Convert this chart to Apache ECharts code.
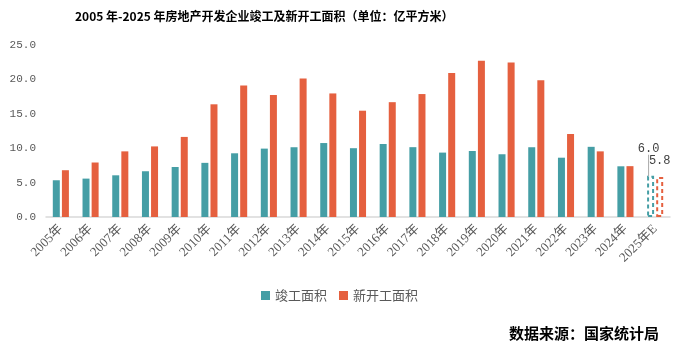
<!DOCTYPE html>
<html><head><meta charset="utf-8">
<script src="https://cdn.jsdelivr.net/npm/echarts@6/dist/echarts.min.js"></script>
<style>html,body{margin:0;padding:0;background:#fff}#c{width:679px;height:347px}</style>
</head><body><div id="c"></div>
<script>
const categories = ['2005年','2006年','2007年','2008年','2009年','2010年','2011年','2012年','2013年','2014年','2015年','2016年','2017年','2018年','2019年','2020年','2021年','2022年','2023年','2024年','2025年E'];
const completed = [5.34,5.58,6.06,6.65,7.27,7.87,9.26,9.94,10.14,10.75,10.00,10.61,10.15,9.36,9.59,9.12,10.14,8.62,10.2,7.37,6.0];
const newStarts = [6.80,7.92,9.54,10.26,11.64,16.38,19.12,17.73,20.12,17.96,15.45,16.69,17.87,20.93,22.72,22.44,19.89,12.06,9.54,7.39,5.8];
const yTicks = [0,5,10,15,20,25];

const TEAL = '#459EA5', ORANGE = '#E5603F';
const estIdx = categories.length - 1;
function mk(vals, color, withLine){
  return vals.map((v,i)=> i===estIdx ? {
    value: v,
    itemStyle:{color:'#fff', borderColor:color, borderType:[4,3], borderWidth:2},
    label:{show:true},
    labelLine:{show:withLine, length2:0, lineStyle:{color:'#aaa', width:1}}
  } : v);
}
const chart = echarts.init(document.getElementById('c'));
chart.setOption({
  animation:false,
  title:[{text:'2005 年-2025 年房地产开发企业竣工及新开工面积（单位：亿平方米）', left:70, top:5,
    textStyle:{fontSize:12, fontWeight:'bold', color:'#000', fontFamily:'Noto Sans CJK SC'}},
    {text:'数据来源：国家统计局', right:15, top:321,
    textStyle:{fontSize:15, fontWeight:'bold', color:'#000', fontFamily:'Noto Sans CJK SC'}}],
  legend:{data:['竣工面积','新开工面积'], top:284, left:'center', itemWidth:9, itemHeight:9, itemGap:12, icon:'rect',
    textStyle:{fontSize:13, color:'#595959', fontFamily:'Noto Sans CJK SC'}},
  grid:{left:46, right:9, top:45, bottom:130},
  xAxis:{type:'category', data:categories,
    axisLine:{lineStyle:{color:'#d9d9d9', width:1.5}}, axisTick:{show:false},
    axisLabel:{rotate:45, interval:0, fontSize:13, color:'#595959', margin:10, fontFamily:'Liberation Serif, Noto Sans CJK SC'}},
  yAxis:{type:'value', min:0, max:25, interval:5,
    axisLine:{show:false}, axisTick:{show:false}, splitLine:{show:false},
    axisLabel:{fontSize:11, color:'#595959', margin:10, fontFamily:'Liberation Mono', formatter:v=>yTicks.includes(v)?v.toFixed(1):''}},
  series:[
    {name:'竣工面积', type:'bar', data:mk(completed,TEAL,true), barWidth:7, barGap:'30%',
      itemStyle:{color:TEAL},
      label:{show:false, position:'top', fontSize:12, color:'#404040', fontFamily:'Liberation Mono', formatter:p=>p.value.toFixed(1)},
      labelLayout:function(p){ return p.dataIndex===estIdx ? {dy:-16, dx:-2} : {}; },
      labelLine:{show:true, lineStyle:{color:'#aaa', width:1}}},
    {name:'新开工面积', type:'bar', data:mk(newStarts,ORANGE,false), barWidth:7,
      itemStyle:{color:ORANGE},
      label:{show:false, position:'top', fontSize:12, color:'#404040', fontFamily:'Liberation Mono', formatter:p=>p.value.toFixed(1)},
      labelLayout:function(p){ return p.dataIndex===estIdx ? {dy:-5} : {}; }}
  ]
});
</script></body></html>
